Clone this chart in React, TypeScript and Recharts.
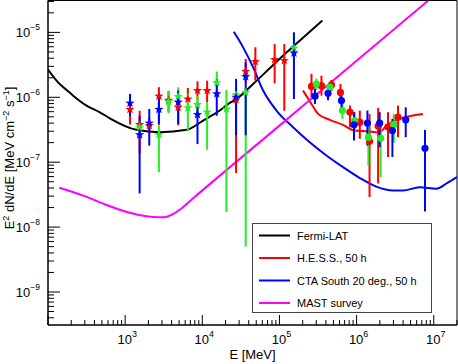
import React from "react";
import {
  ComposedChart,
  Line,
  Scatter,
  XAxis,
  YAxis,
  ErrorBar,
  ReferenceArea,
  Legend,
  Label,
} from "recharts";

const FONT = "'Liberation Sans', Arial, Helvetica, sans-serif";

// ---- curves ----
const fermiE = [100, 135, 174, 212, 316, 470, 632, 1405, 2810, 6240, 10240, 16860, 22700, 27700, 45500, 74800, 123000, 202000, 360000];
const fermiF = [2.67e-6, 1.7e-6, 1.3e-6, 1.06e-6, 7.45e-7, 5.88e-7, 4.75e-7, 3.15e-7, 2.9e-7, 3.15e-7, 4.38e-7, 6.25e-7, 8.2e-7, 9.4e-7, 1.6e-6, 2.8e-6, 4.9e-6, 8.3e-6, 1.52e-5];

const hessE = [2.02e5, 2.6e5, 3.16e5, 4.49e5, 6.67e5, 9.45e5, 1.34e6, 1.99e6, 2.43e6, 3.61e6, 7.25e6];
const hessF = [1.27e-6, 7.9e-7, 5.55e-7, 4.5e-7, 3.76e-7, 3.07e-7, 3.0e-7, 2.9e-7, 3.67e-7, 4.65e-7, 5.55e-7];

const ctaE = [25600, 33800, 45500, 61400, 91400, 1.5e5, 2.47e5, 4.06e5, 6.67e5, 1.1e6, 1.8e6, 2.97e6, 4.0e6, 6.56e6, 1.08e7, 1.5e7, 2.0e7];
const ctaF = [1.02e-5, 5.88e-6, 2.9e-6, 1.27e-6, 6.25e-7, 3.46e-7, 2.03e-7, 1.27e-7, 8.4e-8, 5.7e-8, 4.2e-8, 3.67e-8, 3.67e-8, 4.1e-8, 3.9e-8, 4.8e-8, 5.9e-8];

const mastE = [140, 300, 600, 1150, 2300, 3200, 4000, 5100, 7600, 1e5, 1e6, 8.5e6];
const mastF = [4.04e-8, 3.0e-8, 2.15e-8, 1.66e-8, 1.43e-8, 1.42e-8, 1.55e-8, 1.85e-8, 2.78e-8, 3.66e-7, 3.66e-6, 3.1e-5];

// ---- star points (low energy) ----
const redStarE = [1155, 1540, 2054, 2738, 3652, 4870, 6494, 8660, 11548, 27384, 36517, 48697, 86596, 115478];
const redStarF = [6.5e-7, 3.8e-7, 3.67e-7, 1.04e-6, 9.0e-7, 7.0e-7, 9.4e-7, 1.27e-6, 1.27e-6, 9.1e-7, 2.5e-6, 3.54e-6, 3.8e-6, 3.67e-6];
const redStarLo = [3.8e-7, 1.36e-7, 2.8e-7, 3.7e-7, 6.0e-7, 3.7e-7, 6.5e-7, 8.9e-7, 8.4e-7, 6.8e-8, 1.7e-6, 1.8e-6, 1.64e-6, 6.2e-7];
const redStarHi = [1.0e-6, 6.2e-7, 4.8e-7, 1.43e-6, 1.25e-6, 1.0e-6, 1.39e-6, 1.76e-6, 1.8e-6, 1.3e-6, 3.9e-6, 5.9e-6, 6.6e-6, 6.6e-6];

const greenStarE = [1540, 2738, 3652, 4870, 6494, 8660, 11548, 15399, 20535, 27384, 36517, 153993];
const greenStarF = [3.46e-7, 2.67e-7, 8.6e-7, 1.02e-6, 6.9e-7, 7.7e-7, 5.9e-7, 1.67e-6, 6.6e-7, 1.09e-6, 1.19e-6, 5.7e-6];
const greenStarLo = [2.5e-7, 7.0e-8, 5.7e-7, 6.0e-7, 3.07e-7, 5.5e-7, 1.55e-7, 1.1e-6, 1.71e-8, 8.0e-7, 5.0e-9, 4.0e-6];
const greenStarHi = [4.5e-7, 3.67e-7, 1.24e-6, 1.43e-6, 1.13e-6, 1.05e-6, 8.4e-7, 2.5e-6, 1.3e-6, 1.4e-6, 1.4e-6, 1.0e-5];

const blueStarE = [1155, 1540, 2054, 2738, 4870, 8660, 15399, 27384, 36517, 153993];
const blueStarF = [8.1e-7, 2.64e-7, 4.0e-7, 6.5e-7, 8.4e-7, 5.4e-7, 1.13e-6, 1.0e-6, 2.08e-6, 4.8e-6];
const blueStarLo = [5.2e-7, 3.3e-8, 1.8e-7, 3.9e-7, 3.9e-7, 1.9e-7, 5.2e-7, 2.6e-7, 2.6e-7, 9.4e-7];
const blueStarHi = [1.13e-6, 5.2e-7, 6.6e-7, 1.0e-6, 1.27e-6, 8.4e-7, 1.9e-6, 1.92e-6, 3.45e-6, 1.0e-5];

// ---- circle points (high energy) ----
const redCircE = [2.6e5, 3.5e5, 4.72e5, 6.17e5, 8.2e5, 1.1e6, 1.47e6, 1.9e6, 2.55e6, 3.44e6];
const redCircF = [1.47e-6, 1.51e-6, 1.55e-6, 1.19e-6, 5.9e-7, 4.13e-7, 2.1e-7, 3.6e-7, 3.5e-7, 4.93e-7];
const redCircLo = [1.0e-6, 1.06e-6, 1.25e-6, 8.4e-7, 3.46e-7, 2.3e-7, 2.9e-8, 4.7e-8, 1.2e-7, 2.43e-7];
const redCircHi = [2.3e-6, 2.15e-6, 1.85e-6, 1.6e-6, 7.45e-7, 6.25e-7, 5.55e-7, 6.9e-7, 5.9e-7, 7.45e-7];

const greenCircE = [3.01e5, 4.49e5, 6.55e5, 9.45e5, 1.42e6, 2.05e6, 3.03e6];
const greenCircF = [1.6e-6, 1.43e-6, 6.25e-7, 4.38e-7, 2.43e-7, 2.34e-7, 3.8e-7];
const greenCircLo = [1.3e-6, 1.2e-6, 4.65e-7, 3.0e-7, 8.9e-8, 5.9e-8, 2.0e-7];
const greenCircHi = [1.95e-6, 1.7e-6, 7.9e-7, 5.9e-7, 3.9e-7, 3.9e-7, 5.5e-7];

const blueCircE = [2.89e5, 4.26e5, 6.36e5, 9.25e5, 1.38e6, 1.99e6, 2.91e6, 4.33e6, 7.7e6];
const blueCircF = [1.04e-6, 1.15e-6, 8.9e-7, 3.76e-7, 4.0e-7, 4.0e-7, 3.07e-7, 4.5e-7, 1.64e-7];
const blueCircLo = [7.9e-7, 9.0e-7, 6.5e-7, 2.16e-7, 1.8e-7, 1.7e-7, 1.2e-7, 2.43e-7, 1.74e-8];
const blueCircHi = [1.35e-6, 1.45e-6, 1.15e-6, 5.9e-7, 6.25e-7, 5.9e-7, 4.65e-7, 7.0e-7, 3.15e-7];

// ---- axes ----
const xDomain = [100, 2e7];
const yDomain = [3.1e-10, 3.1e-5];
const xDecades = [2, 3, 4, 5, 6, 7];
const yDecades = [-10, -9, -8, -7, -6, -5];
const xLabelExps = [3, 4, 5, 6, 7];
const yLabelExps = [-9, -8, -7, -6, -5];
const mantissas = [1, 2, 3, 4, 5, 6, 7, 8, 9];

const legendItems = [
  { name: "Fermi-LAT", color: "#000000" },
  { name: "H.E.S.S., 50 h", color: "#ff0000" },
  { name: "CTA South 20 deg., 50 h", color: "#0000ff" },
  { name: "MAST survey", color: "#ff00ff" },
];

const RED = "#ff0000";
const GREEN = "#22ee22";
const BLUE = "#0000ff";

const buildTicks = (decs: number[], dom: number[]) => {
  const out: number[] = [];
  decs.forEach((e) => mantissas.forEach((m) => {
    const v = m * Math.pow(10, e);
    if (v >= dom[0] * 0.9999 && v <= dom[1] * 1.0001) out.push(v);
  }));
  return out;
};
const xTicks = buildTicks(xDecades, xDomain);
const yTicks = buildTicks(yDecades, yDomain);

const decadeOf = (v: number) => {
  const e = Math.round(Math.log10(v));
  return Math.abs(v / Math.pow(10, e) - 1) < 1e-6 ? e : null;
};

const curve = (e: number[], f: number[]) => e.map((x, i) => ({ x, y: f[i] }));
const pts = (e: number[], f: number[], lo: number[], hi: number[]) =>
  e.map((x, i) => ({ x, y: f[i], err: [f[i] - lo[i], hi[i] - f[i]] }));

const starPoints = (cx: number, cy: number, R: number, r: number) => {
  const p: string[] = [];
  for (let k = 0; k < 10; k++) {
    const a = -Math.PI / 2 + (k * Math.PI) / 5;
    const rad = k % 2 === 0 ? R : r;
    p.push(`${cx + rad * Math.cos(a)},${cy + rad * Math.sin(a)}`);
  }
  return p.join(" ");
};

const starShape = (color: string) => (props: any) => {
  if (props.cx == null || props.cy == null) return <g />;
  return <polygon points={starPoints(props.cx, props.cy, 4.8, 2.0)} fill={color} />;
};
const circleShape = (color: string) => (props: any) => {
  if (props.cx == null || props.cy == null) return <g />;
  return <circle cx={props.cx} cy={props.cy} r={3.6} fill={color} />;
};

const XTick = (props: any) => {
  const { x, y, payload } = props;
  const e = decadeOf(payload.value);
  const major = e !== null;
  return (
    <g>
      <line x1={x} x2={x} y1={y} y2={y - (major ? 10 : 5)} stroke="#000" strokeWidth={1} />
      {major && xLabelExps.includes(e as number) && (
        <text x={x + 2} y={y + 19} textAnchor="middle" fontSize={13} fontFamily={FONT} fill="#000">
          10<tspan dy={-7} fontSize={9}>{String(e)}</tspan>
        </text>
      )}
    </g>
  );
};

const YTick = (props: any) => {
  const { x, y, payload } = props;
  const e = decadeOf(payload.value);
  const major = e !== null;
  return (
    <g>
      <line x1={x} x2={x + (major ? 12 : 6)} y1={y} y2={y} stroke="#000" strokeWidth={1} />
      {major && yLabelExps.includes(e as number) && (
        <text x={x - 8} y={y + 5} textAnchor="end" fontSize={13} fontFamily={FONT} fill="#000">
          10<tspan dy={-7} fontSize={8.5}>{"\u2212" + Math.abs(e as number)}</tspan>
        </text>
      )}
    </g>
  );
};

const XTitle = (props: any) => {
  const vb = props.viewBox || { x: 48, y: 325, width: 409, height: 39 };
  return (
    <text x={vb.x + vb.width / 2} y={vb.y + 34} textAnchor="middle" fontSize={13} fontFamily={FONT} fill="#000">
      E [MeV]
    </text>
  );
};

const YTitle = () => (
  <text transform="rotate(-90)" x={-158} y={14} textAnchor="middle" fontSize={13} fontFamily={FONT} fill="#000">
    E<tspan dy={-5} fontSize={9}>2</tspan>
    <tspan dy={5}> dN/dE [MeV cm</tspan>
    <tspan dy={-5} fontSize={9}>{"\u22122"}</tspan>
    <tspan dy={5}> s</tspan>
    <tspan dy={-5} fontSize={9}>{"\u22121"}</tspan>
    <tspan dy={5}>]</tspan>
  </text>
);

const LegendBox = () => (
  <svg width={181} height={91} style={{ display: "block" }}>
    <rect x={0.5} y={0.5} width={179} height={89} fill="#fff" stroke="#444" strokeWidth={1} />
    {legendItems.map((it, i) => {
      const cy = 12.5 + i * 22.5;
      return (
        <g key={it.name}>
          <line x1={7} x2={38} y1={cy} y2={cy} stroke={it.color} strokeWidth={2} />
          <text x={45} y={cy + 4} fontSize={11} fontFamily={FONT} fill="#000">
            {it.name}
          </text>
        </g>
      );
    })}
  </svg>
);

export default function App() {
  const lineProps = { dataKey: "y", dot: false, isAnimationActive: false, strokeWidth: 2, type: "monotoneX" as const, legendType: "none" as const };
  return (
    <div style={{ position: "absolute", left: 0, top: 0, width: 458, height: 364, background: "#fff", fontFamily: FONT }}>
      <ComposedChart width={458} height={364} margin={{ top: 0.5, right: 1, bottom: 0, left: 0 }}>
        <XAxis
          dataKey="x"
          type="number"
          scale="log"
          domain={xDomain}
          allowDataOverflow
          ticks={xTicks}
          interval={0}
          tick={<XTick />}
          tickLine={false}
          tickSize={0}
          tickMargin={0}
          height={39}
          axisLine={{ stroke: "#000" }}
        >
          <Label content={<XTitle />} />
        </XAxis>
        <YAxis
          dataKey="y"
          type="number"
          scale="log"
          domain={yDomain}
          allowDataOverflow
          ticks={yTicks}
          interval={0}
          tick={<YTick />}
          tickLine={false}
          tickSize={0}
          tickMargin={0}
          width={48}
          axisLine={{ stroke: "#000" }}
        >
          <Label content={<YTitle />} />
        </YAxis>

        <Line {...lineProps} data={curve(fermiE, fermiF)} stroke="#000000" name="Fermi-LAT" />
        <Line {...lineProps} data={curve(hessE, hessF)} stroke={RED} name="H.E.S.S., 50 h" />
        <Line {...lineProps} data={curve(ctaE, ctaF)} stroke={BLUE} name="CTA South 20 deg., 50 h" />
        <Line {...lineProps} data={curve(mastE, mastF)} stroke="#ff00ff" name="MAST survey" />

        <Scatter data={pts(redStarE, redStarF, redStarLo, redStarHi)} shape={starShape(RED)} isAnimationActive={false} legendType="none">
          <ErrorBar dataKey="err" direction="y" width={0} stroke={RED} strokeWidth={2} isAnimationActive={false} />
        </Scatter>
        <Scatter data={pts(greenStarE, greenStarF, greenStarLo, greenStarHi)} shape={starShape(GREEN)} isAnimationActive={false} legendType="none">
          <ErrorBar dataKey="err" direction="y" width={0} stroke={GREEN} strokeWidth={2} isAnimationActive={false} />
        </Scatter>
        <Scatter data={pts(blueStarE, blueStarF, blueStarLo, blueStarHi)} shape={starShape(BLUE)} isAnimationActive={false} legendType="none">
          <ErrorBar dataKey="err" direction="y" width={0} stroke={BLUE} strokeWidth={2} isAnimationActive={false} />
        </Scatter>
        <Scatter data={pts(redCircE, redCircF, redCircLo, redCircHi)} shape={circleShape(RED)} isAnimationActive={false} legendType="none">
          <ErrorBar dataKey="err" direction="y" width={0} stroke={RED} strokeWidth={2} isAnimationActive={false} />
        </Scatter>
        <Scatter data={pts(greenCircE, greenCircF, greenCircLo, greenCircHi)} shape={circleShape(GREEN)} isAnimationActive={false} legendType="none">
          <ErrorBar dataKey="err" direction="y" width={0} stroke={GREEN} strokeWidth={2} isAnimationActive={false} />
        </Scatter>
        <Scatter data={pts(blueCircE, blueCircF, blueCircLo, blueCircHi)} shape={circleShape(BLUE)} isAnimationActive={false} legendType="none">
          <ErrorBar dataKey="err" direction="y" width={0} stroke={BLUE} strokeWidth={2} isAnimationActive={false} />
        </Scatter>

        <ReferenceArea
          x1={xDomain[0]}
          x2={xDomain[1]}
          y1={yDomain[0]}
          y2={yDomain[1]}
          fill="none"
          fillOpacity={0}
          stroke="#000"
          strokeWidth={1}
          ifOverflow="visible"
        />

        <Legend
          layout="vertical"
          align="center"
          verticalAlign="middle"
          wrapperStyle={{ left: 252, top: 223, width: 181, height: 91 }}
          content={() => <LegendBox />}
        />
      </ComposedChart>
    </div>
  );
}
